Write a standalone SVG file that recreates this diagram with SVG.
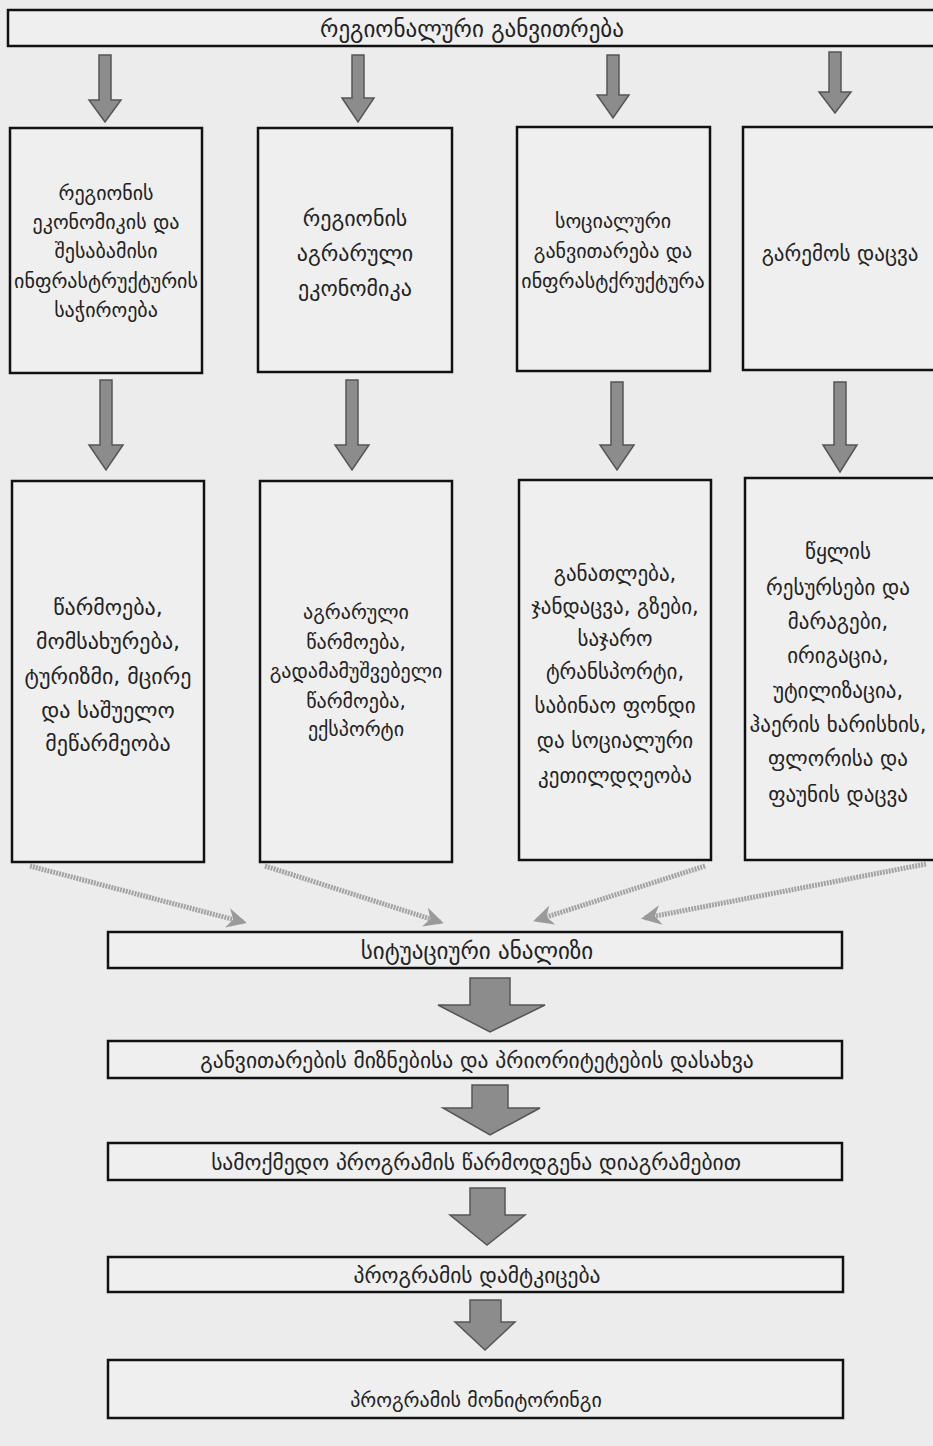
<svg xmlns="http://www.w3.org/2000/svg" width="933" height="1446" viewBox="0 0 933 1446">
<defs>
<style>
.bg{fill:#ececec}
.box{fill:#efefef;stroke:#111;stroke-width:2.5}
.t{font-family:"DejaVu Sans",sans-serif;fill:#222;text-anchor:middle}
.s16{font-size:20px}
.s17{font-size:21px}
.s18{font-size:22px}
.arr{fill:#8c8c8c;stroke:#555;stroke-width:1.5;stroke-linejoin:miter}
.diag{stroke:#a4a4a4;stroke-width:5;fill:none;stroke-dasharray:2 1}
</style>
<marker id="ah" viewBox="0 0 10 10" refX="8" refY="5" markerWidth="4" markerHeight="4" orient="auto" markerUnits="strokeWidth">
<path d="M0,0 L10,5 L0,10 L3,5 Z" fill="#9a9a9a"/>
</marker>
</defs>
<rect class="bg" x="0" y="0" width="933" height="1446"/>

<g id="connectors">
<path class="arr" d="M99,55 H111 V100 H121 L105,122 L89,100 H99 Z"/>
<path class="arr" d="M352,55 H364 V98 H374 L358,122 L342,98 H352 Z"/>
<path class="arr" d="M607,55 H619 V95 H629 L613,118 L597,95 H607 Z"/>
<path class="arr" d="M829,52 H841 V92 H851 L835,113 L819,92 H829 Z"/>
<path class="arr" d="M100,380 H112 V445 H123 L106,470 L89,445 H100 Z"/>
<path class="arr" d="M346,380 H358 V445 H369 L352,470 L335,445 H346 Z"/>
<path class="arr" d="M611,382 H623 V445 H634 L617,470 L600,445 H611 Z"/>
<path class="arr" d="M834,382 H846 V445 H857 L840,472 L823,445 H834 Z"/>
<path class="diag" marker-end="url(#ah)" d="M30,866 L243,922"/>
<path class="diag" marker-end="url(#ah)" d="M265,866 L440,922"/>
<path class="diag" marker-end="url(#ah)" d="M705,866 L537,920"/>
<path class="diag" marker-end="url(#ah)" d="M926,864 L645,918"/>
<path class="arr" d="M470,978 H510 V1005 H545 L490,1032 L438,1005 H470 Z"/>
<path class="arr" d="M472,1085 H508 V1108 H540 L490,1135 L443,1108 H472 Z"/>
<path class="arr" d="M470,1188 H505 V1215 H525 L487,1245 L450,1215 H470 Z"/>
<path class="arr" d="M470,1300 H501 V1322 H515 L485,1350 L455,1322 H470 Z"/>
</g>

<g id="top">
<rect class="box" x="8" y="10" width="935" height="36"/>
<text class="t" x="472" y="37" font-size="23">რეგიონალური განვითრება</text>
</g>

<g id="n1">
<rect class="box" x="10" y="128" width="192" height="245"/>
<text class="t s16"><tspan x="106" y="200">რეგიონის</tspan><tspan x="106" y="229">ეკონომიკის და</tspan><tspan x="106" y="258">შესაბამისი</tspan><tspan x="106" y="288">ინფრასტრუქტურის</tspan><tspan x="106" y="317">საჭიროება</tspan></text>
</g>
<g id="n2">
<rect class="box" x="258" y="128" width="194" height="244"/>
<text class="t s18"><tspan x="355" y="226">რეგიონის</tspan><tspan x="355" y="261">აგრარული</tspan><tspan x="355" y="296">ეკონომიკა</tspan></text>
</g>
<g id="n3">
<rect class="box" x="517" y="127" width="193" height="244"/>
<text class="t s16"><tspan x="613" y="228">სოციალური</tspan><tspan x="613" y="258">განვითარება და</tspan><tspan x="613" y="288">ინფრასტქრუქტურა</tspan></text>
</g>
<g id="n4">
<rect class="box" x="743" y="127" width="200" height="243"/>
<text class="t s17" x="840" y="261">გარემოს დაცვა</text>
</g>

<g id="n5">
<rect class="box" x="12" y="481" width="192" height="381"/>
<text class="t s18"><tspan x="108" y="615">წარმოება,</tspan><tspan x="108" y="649">მომსახურება,</tspan><tspan x="108" y="684">ტურიზმი, მცირე</tspan><tspan x="108" y="718">და საშუელო</tspan><tspan x="108" y="751">მეწარმეობა</tspan></text>
</g>
<g id="n6">
<rect class="box" x="260" y="481" width="192" height="381"/>
<text class="t s16"><tspan x="356" y="619">აგრარული</tspan><tspan x="356" y="649">წარმოება,</tspan><tspan x="356" y="678">გადამამუშვებელი</tspan><tspan x="356" y="708">წარმოება,</tspan><tspan x="356" y="736">ექსპორტი</tspan></text>
</g>
<g id="n7">
<rect class="box" x="519" y="480" width="192" height="380"/>
<text class="t s17"><tspan x="615" y="581">განათლება,</tspan><tspan x="615" y="614">ჯანდაცვა, გზები,</tspan><tspan x="615" y="646">საჯარო</tspan><tspan x="615" y="679">ტრანსპორტი,</tspan><tspan x="615" y="713">საბინაო ფონდი</tspan><tspan x="615" y="748">და სოციალური</tspan><tspan x="615" y="783">კეთილდღეობა</tspan></text>
</g>
<g id="n8">
<rect class="box" x="745" y="478" width="198" height="382"/>
<text class="t s17"><tspan x="838" y="559">წყლის</tspan><tspan x="838" y="595">რესურსები და</tspan><tspan x="838" y="629">მარაგები,</tspan><tspan x="838" y="663">ირიგაცია,</tspan><tspan x="838" y="698">უტილიზაცია,</tspan><tspan x="838" y="732">ჰაერის ხარისხის,</tspan><tspan x="838" y="766">ფლორისა და</tspan><tspan x="838" y="802">ფაუნის დაცვა</tspan></text>
</g>

<g id="n9">
<rect class="box" x="108" y="932" width="734" height="36"/>
<text class="t" font-size="23" x="477" y="959">სიტუაციური ანალიზი</text>
</g>
<g id="n10">
<rect class="box" x="108" y="1041" width="734" height="37"/>
<text class="t" font-size="21.5" x="477" y="1068">განვითარების მიზნებისა და პრიორიტეტების დასახვა</text>
</g>
<g id="n11">
<rect class="box" x="108" y="1143" width="734" height="37"/>
<text class="t" font-size="21.5" x="476" y="1170">სამოქმედო პროგრამის წარმოდგენა დიაგრამებით</text>
</g>
<g id="n12">
<rect class="box" x="108" y="1257" width="735" height="35"/>
<text class="t" font-size="21.5" x="477" y="1283">პროგრამის დამტკიცება</text>
</g>
<g id="n13">
<rect class="box" x="108" y="1360" width="735" height="58"/>
<text class="t" font-size="20" x="476" y="1407">პროგრამის მონიტორინგი</text>
</g>
</svg>
